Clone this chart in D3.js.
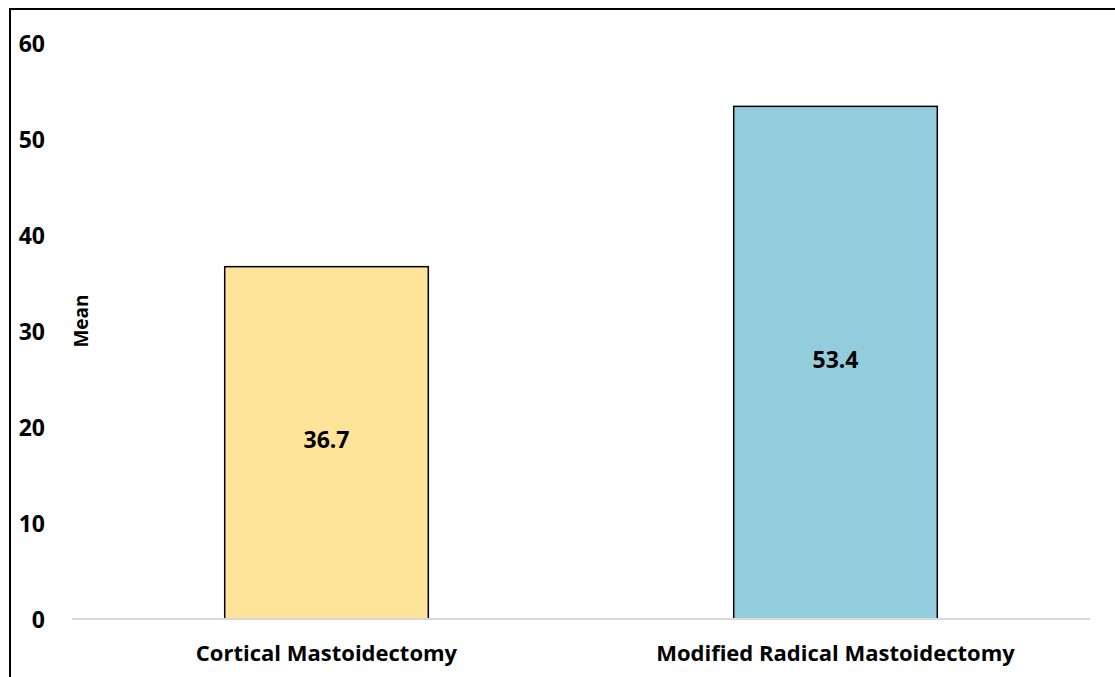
<!DOCTYPE html>
<html>
<head>
<meta charset="utf-8">
<script src="https://cdn.jsdelivr.net/npm/d3@7"></script>
<style>
  body { margin: 0; background: #fff; }
  svg { display: block; }
  text { font-family: "Open Sans", Lato, sans-serif; font-weight: bold; fill: #000; }
</style>
</head>
<body>
<svg width="1115" height="677"></svg>
<script>
var categories = ["Cortical Mastoidectomy", "Modified Radical Mastoidectomy"];
var means = [36.7, 53.4];
var barColors = ["#ffe399", "#93cddd"];
var yTicks = [0, 10, 20, 30, 40, 50, 60];

var svg = d3.select("svg"),
  width = +svg.attr("width"),
  height = +svg.attr("height");

var data = categories.map(function(c, i) { return { name: c, value: means[i], color: barColors[i] }; });

// outer frame (cropped on right and bottom like the source)
svg.append("rect")
  .attr("x", 10).attr("y", 9)
  .attr("width", width + 20).attr("height", height + 20)
  .attr("fill", "none")
  .attr("stroke", "#000")
  .attr("stroke-width", 2);

var x = d3.scaleBand()
  .domain(categories)
  .range([72, 1090])
  .paddingInner(0.6)
  .paddingOuter(0.3);

var y = d3.scaleLinear()
  .domain([0, 60])
  .range([619, 43]);

// y tick labels
svg.append("g")
  .selectAll("text")
  .data(yTicks)
  .enter().append("text")
  .attr("x", 45)
  .attr("y", function(d) { return y(d); })
  .attr("text-anchor", "end")
  .attr("dominant-baseline", "central")
  .style("font-size", "23px")
  .text(function(d) { return d; });

// bars
svg.append("g")
  .selectAll("rect")
  .data(data)
  .enter().append("rect")
  .attr("x", function(d) { return x(d.name); })
  .attr("y", function(d) { return y(d.value); })
  .attr("width", x.bandwidth())
  .attr("height", function(d) { return y(0) - y(d.value); })
  .attr("fill", function(d) { return d.color; })
  .attr("stroke", "#000")
  .attr("stroke-width", 1.5);

// baseline
svg.append("line")
  .attr("x1", x.range()[0]).attr("x2", x.range()[1])
  .attr("y1", y(0)).attr("y2", y(0))
  .attr("stroke", "#d9d9d9")
  .attr("stroke-width", 2);

// value labels
svg.append("g")
  .selectAll("text")
  .data(data)
  .enter().append("text")
  .attr("x", function(d) { return x(d.name) + x.bandwidth() / 2; })
  .attr("y", function(d) { return (y(0) + y(d.value)) / 2 - 4; })
  .attr("text-anchor", "middle")
  .attr("dominant-baseline", "central")
  .style("font-size", "23px")
  .text(function(d) { return d.value.toFixed(1); });

// category labels
svg.append("g")
  .selectAll("text")
  .data(categories)
  .enter().append("text")
  .attr("x", function(d) { return x(d) + x.bandwidth() / 2; })
  .attr("y", 661)
  .attr("text-anchor", "middle")
  .style("font-size", "22px")
  .text(function(d) { return d; });

// y axis title
svg.append("text")
  .attr("transform", "translate(88,321) rotate(-90)")
  .attr("text-anchor", "middle")
  .style("font-size", "19px")
  .text("Mean");
</script>
</body>
</html>
